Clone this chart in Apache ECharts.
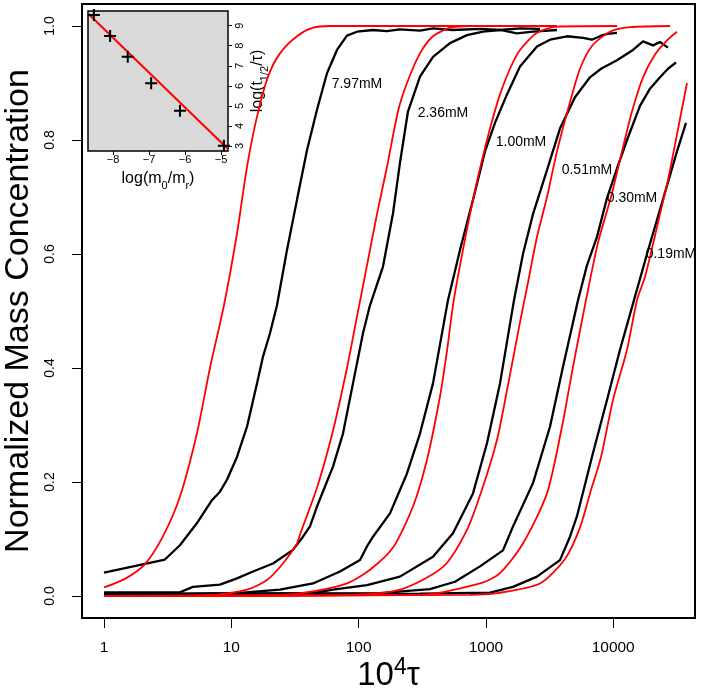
<!DOCTYPE html>
<html><head><meta charset="utf-8">
<script src="https://cdn.jsdelivr.net/npm/echarts@6/dist/echarts.min.js"></script>
<style>html,body{margin:0;padding:0;background:#fff}#c{width:701px;height:688px}</style>
</head><body><div id="c"></div>
<script>
// ---- tick labels ----
const xTicks = [1, 10, 100, 1000, 10000];
const yTicks = [0, 0.2, 0.4, 0.6, 0.8, 1.0];
const insetXTicks = [-8, -7, -6, -5];
const insetYTicks = [3, 4, 5, 6, 7, 8, 9];

// ---- curve labels ----
const concLabels = ['7.97mM', '2.36mM', '1.00mM', '0.51mM', '0.30mM', '0.19mM'];
const labelTau = [97.1, 460, 1887, 6225, 14050, 28440];
const labelConc = [0.898, 0.847, 0.796, 0.747, 0.698, 0.600];

// ---- measured data (black) [10^4 tau, normalized mass] ----
const black797 = [[1,0.041],[3.01,0.064],[3.95,0.089],[5.38,0.128],[7.05,0.168],[8.15,0.183],[9.25,0.204],[11.09,0.244],[13.29,0.297],[15.92,0.373],[17.75,0.42],[20.14,0.461],[22.86,0.51],[27.39,0.607],[32.82,0.695],[39.33,0.782],[47.12,0.853],[56.47,0.917],[67.67,0.958],[81.06,0.983],[97.14,0.99],[129.8,0.993],[167,0.991],[211,0.994],[304,0.992],[384,0.996],[551,0.993],[899,0.995],[1291,0.993],[1853,0.996],[2661,0.995]];
const black236 = [[1,0.0065],[3.95,0.0065],[5.0,0.016],[8.15,0.02],[11.09,0.031],[14.81,0.043],[21.27,0.057],[30.53,0.081],[36.58,0.104],[41.52,0.122],[47.12,0.157],[62.94,0.227],[75.42,0.285],[90.36,0.373],[108.3,0.461],[122.9,0.51],[155.5,0.578],[186.3,0.671],[211.4,0.76],[244.3,0.85],[303.6,0.911],[384.1,0.946],[522.4,0.97],[710.4,0.984],[948.9,0.99],[1291,0.993],[1755,0.987],[2344,0.99],[3619,0.993]];
const black100 = [[1,0.003],[11.09,0.005],[24.13,0.011],[43.84,0.022],[71.44,0.043],[102.6,0.063],[116.4,0.087],[129.8,0.104],[176.5,0.145],[240,0.215],[303.6,0.285],[384.1,0.373],[503.8,0.519],[626.1,0.607],[792,0.695],[984,0.78],[1179,0.83],[1465,0.88],[1853,0.929],[2520,0.964],[3188,0.976],[4337,0.982],[5790,0.979],[6800,0.976],[8023,0.983],[9000,0.986],[10710,0.988]];
const black051 = [[1,0.003],[43.84,0.005],[62.94,0.011],[116.4,0.019],[211.4,0.034],[384.1,0.069],[551.5,0.11],[792,0.18],[1020,0.268],[1291,0.373],[1663,0.519],[1956,0.6],[2344,0.67],[3020,0.747],[3820,0.82],[5011,0.875],[6573,0.91],[8023,0.925],[10710,0.94],[14310,0.958],[17150,0.973],[20550,0.966],[23320,0.972],[26950,0.962]];
const black030 = [[1,0.003],[147.3,0.005],[363.8,0.012],[571.8,0.025],[899,0.052],[1362,0.08],[1633,0.122],[2344,0.198],[3188,0.297],[4034,0.402],[5291,0.519],[6225,0.58],[7459,0.63],[8940,0.698],[10710,0.75],[12840,0.8],[16240,0.86],[19460,0.89],[23320,0.91],[26950,0.925],[31150,0.936]];
const black019 = [[1,0.003],[303.6,0.004],[1077,0.006],[1633,0.016],[2520,0.034],[3820,0.063],[4578,0.104],[5195,0.14],[6939,0.251],[8940,0.344],[11310,0.432],[14570,0.519],[18430,0.6],[22090,0.66],[26470,0.72],[31710,0.78],[37330,0.83]];

// ---- fitted curves (red) ----
const red797 = [[1,0.015],[1.46,0.03],[2.1,0.056],[2.91,0.105],[3.95,0.174],[5.38,0.286],[6.8,0.4],[8.76,0.51],[11.09,0.636],[13.29,0.753],[15.92,0.841],[19.43,0.911],[24.13,0.952],[32.82,0.982],[43.84,0.997],[59.6,1.0],[2661,1.0]];
const red236 = [[1,0],[7.18,0.002],[13.29,0.011],[19.08,0.028],[25.48,0.057],[32.82,0.092],[34.65,0.108],[47.12,0.19],[62.94,0.29],[81.06,0.4],[97.14,0.49],[116.4,0.58],[139.5,0.67],[167.2,0.753],[203.9,0.85],[240,0.9],[303.6,0.952],[384.1,0.982],[522.4,0.997],[750.2,1.0],[3619,1.0]];
const red100 = [[1,0],[24.13,0.002],[43.84,0.008],[81.06,0.022],[122.9,0.046],[186.3,0.085],[267.5,0.157],[344.5,0.239],[435.9,0.35],[494.8,0.43],[551.5,0.51],[626.1,0.58],[750.2,0.67],[899,0.75],[1077,0.82],[1291,0.88],[1546,0.925],[1853,0.958],[2520,0.988],[3619,0.999],[10710,1.0]];
const red051 = [[1,0],[85.57,0.002],[211.4,0.011],[460.3,0.051],[710.4,0.116],[948.9,0.192],[1223,0.274],[1465,0.361],[1853,0.48],[2142,0.55],[2520,0.63],[3020,0.7],[3619,0.78],[4497,0.86],[5486,0.925],[6814,0.965],[9437,0.99],[13550,0.998],[27950,1.0]];
const red030 = [[1,0],[303.6,0.002],[899,0.022],[1291,0.04],[1956,0.092],[3020,0.18],[3961,0.297],[4833,0.402],[6113,0.519],[7596,0.62],[9610,0.7],[11730,0.78],[14050,0.85],[17150,0.91],[21310,0.95],[26470,0.975],[31710,0.99]];
const red019 = [[1,0],[750.2,0.002],[1223,0.005],[2661,0.022],[4182,0.065],[5486,0.12],[6573,0.18],[8023,0.244],[9963,0.344],[12840,0.432],[15380,0.519],[17780,0.56],[20180,0.61],[23320,0.67],[26950,0.73],[31710,0.81],[37990,0.9]];

// ---- inset: log(m0/mr) vs log(t1/2/tau) ----
const insetLogM = [-8.53, -8.08, -7.59, -6.94, -6.14, -4.92];
const insetLogT = [9.53, 8.49, 7.45, 6.13, 4.76, 3.01];
const fitLogM = [-8.694, -4.806];
const fitLogT = [9.61, 2.85];

const FONT = 'Liberation Sans';
const blacks = [black797, black236, black100, black051, black030, black019];
const reds = [red797, red236, red100, red051, red030, red019];

const series = [];
blacks.forEach(d => series.push({type:'line', xAxisIndex:0, yAxisIndex:0, data:d, showSymbol:false, symbol:'none',
  lineStyle:{color:'#000', width:2.3}, z:3, animation:false}));
reds.forEach(d => series.push({type:'line', xAxisIndex:0, yAxisIndex:0, data:d, showSymbol:false, symbol:'none',
  smooth:0.25, lineStyle:{color:'#ff0000', width:1.8}, z:4, animation:false}));
series.push({type:'scatter', xAxisIndex:0, yAxisIndex:0, symbolSize:1, itemStyle:{color:'rgba(0,0,0,0)', opacity:1},
  data: concLabels.map((n,i)=>[labelTau[i], labelConc[i], n]),
  label:{show:true, position:'inside', formatter:p=>p.data[2], fontSize:14, color:'#000', opacity:1, fontFamily:FONT}, z:6, animation:false});
// inset
series.push({type:'line', xAxisIndex:1, yAxisIndex:1, data: fitLogM.map((v,i)=>[v, fitLogT[i]]), showSymbol:false, symbol:'none',
  lineStyle:{color:'#ff0000', width:2}, z:5, animation:false});
series.push({type:'scatter', xAxisIndex:1, yAxisIndex:1, data: insetLogM.map((v,i)=>[v, insetLogT[i]]),
  symbol:'path://M-1,-6L1,-6L1,-1L6,-1L6,1L1,1L1,6L-1,6L-1,1L-6,1L-6,-1L-1,-1Z', symbolSize:12,
  itemStyle:{color:'#000', opacity:1}, z:6, animation:false});

const chart = echarts.init(document.getElementById('c'), null, {renderer:'canvas'});
chart.setOption({
  animation:false,
  backgroundColor:'#fff',
  grid:[
    {left:82, right:6, top:4, bottom:70, show:true, borderColor:'#000', borderWidth:2, backgroundColor:'#fff', containLabel:false, outerBoundsMode:'none'},
    {left:88, top:11, width:140, height:140, show:true, borderColor:'#000', borderWidth:1.5, backgroundColor:'#d9d9d9', z:3, containLabel:false, outerBoundsMode:'none'}
  ],
  xAxis:[
    {type:'log', logBase:10, gridIndex:0, min:0.672, max:43920,
     axisLine:{show:false, onZero:false}, splitLine:{show:false}, minorTick:{show:false},
     axisTick:{show:true, length:10, lineStyle:{color:'#000', width:1}, customValues:xTicks},
     axisLabel:{customValues:xTicks, formatter:v=>String(Math.round(v)), fontSize:15.5, color:'#000', margin:22, fontFamily:FONT},
     name:'{a|10}{s|4}{a|τ}', nameLocation:'middle', nameGap:38, nameMoveOverlap:false,
     nameTextStyle:{rich:{a:{fontSize:33, lineHeight:40, color:'#000', fontFamily:FONT},
                          s:{fontSize:23, lineHeight:23, verticalAlign:'top', color:'#000', fontFamily:FONT}}}},
    {type:'value', gridIndex:1, min:-8.694, max:-4.806,
     axisLine:{show:false, onZero:false}, splitLine:{show:false},
     axisTick:{show:true, length:4, lineStyle:{color:'#000', width:1}, customValues:insetXTicks},
     axisLabel:{customValues:insetXTicks, formatter:v=>(v<0?'\u2212'+Math.abs(Math.round(v)):String(Math.round(v))), fontSize:11, color:'#000', margin:3, fontFamily:FONT},
     name:'{a|log(m}{b|0}{a|/m}{b|r}{a|)}', nameLocation:'middle', nameGap:16, nameMoveOverlap:false,
     nameTextStyle:{rich:{a:{fontSize:16, lineHeight:24, color:'#000', fontFamily:FONT},
                          b:{fontSize:11, lineHeight:11, verticalAlign:'bottom', color:'#000', fontFamily:FONT}}}}
  ],
  yAxis:[
    {type:'value', gridIndex:0, min:-0.0386, max:1.0386,
     axisLine:{show:false, onZero:false}, splitLine:{show:false},
     axisTick:{show:true, length:10, lineStyle:{color:'#000', width:1}, customValues:yTicks},
     axisLabel:{customValues:yTicks, rotate:90, formatter:v=>v.toFixed(1), fontSize:14, color:'#000', margin:25, fontFamily:FONT},
     name:'Normalized Mass Concentration', nameLocation:'middle', nameGap:46, nameRotate:90, nameMoveOverlap:false,
     nameTextStyle:{fontSize:34, color:'#000', fontFamily:FONT}},
    {type:'value', gridIndex:1, position:'right', min:2.75, max:9.733,
     axisLine:{show:false, onZero:false}, splitLine:{show:false},
     axisTick:{show:true, length:4, lineStyle:{color:'#000', width:1}, customValues:insetYTicks},
     axisLabel:{customValues:insetYTicks, rotate:90, fontSize:11, color:'#000', margin:6, fontFamily:FONT},
     name:'{a|log(t}{b|1/2}{a|/τ)}', nameLocation:'middle', nameGap:18, nameRotate:90, nameMoveOverlap:false,
     nameTextStyle:{rich:{a:{fontSize:16, lineHeight:24, color:'#000', fontFamily:FONT},
                          b:{fontSize:11, lineHeight:11, verticalAlign:'bottom', color:'#000', fontFamily:FONT}}}}
  ],
  series: series
});
</script></body></html>
